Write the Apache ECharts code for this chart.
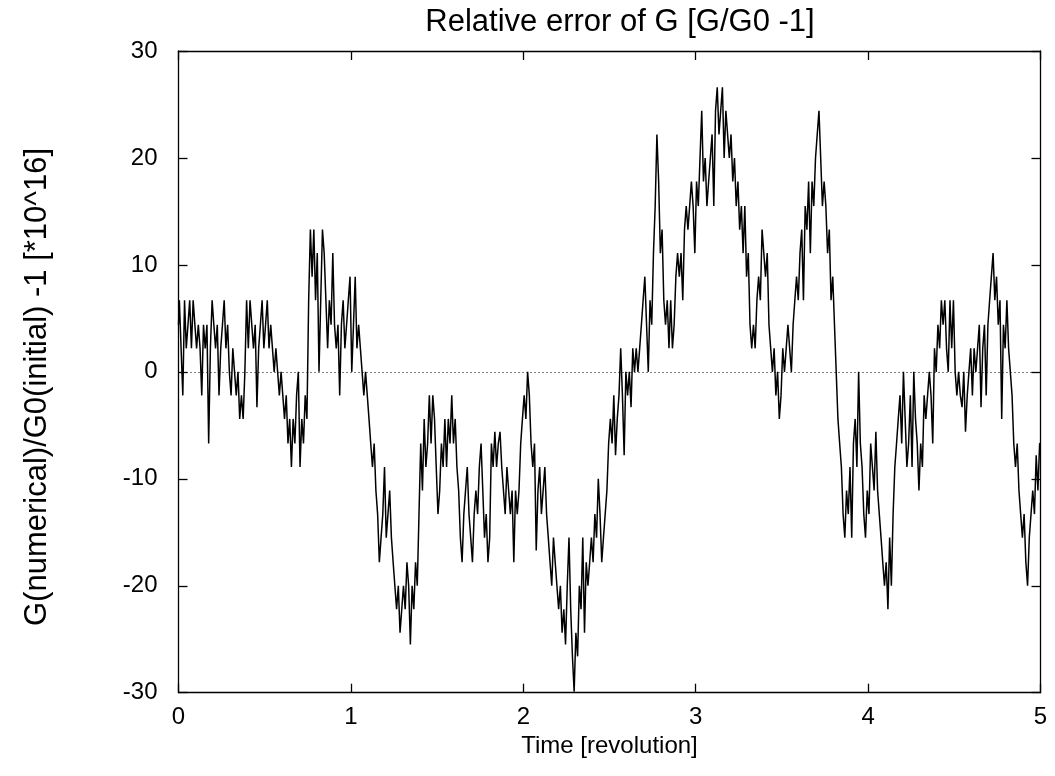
<!DOCTYPE html>
<html>
<head>
<meta charset="utf-8">
<script src="https://cdn.jsdelivr.net/npm/echarts@6/dist/echarts.min.js"></script>
<style>
  html, body { margin: 0; padding: 0; background: #fff; }
  #chart { width: 1055px; height: 776px; }
</style>
</head>
<body>
<div id="chart"></div>
<script>
// Relative error of G, in units of 1e-16, sampled every 0.01 revolution (0 .. 5)
const errorValues = [
  4.4, 6.7, 2.2, -2.2, 6.7, 2.2, 4.4, 6.7, 2.2, 6.7,
  4.4, 2.2, 4.4, 2.2, -2.2, 4.4, 2.2, 4.4, -6.7, 2.2,
  6.7, 4.4, 2.2, 4.4, -2.2, 2.2, 4.4, 6.7, 2.2, 4.4,
  0, -2.2, 2.2, 0, -2.2, 0, -4.4, -2.2, -4.4, 0,
  6.7, 2.2, 6.7, 4.4, 2.2, 4.4, -3.3, 2.2, 4.4, 6.7,
  2.2, 4.4, 6.7, 2.2, 4.4, 2.2, 0, 2.2, 0, -2.2,
  0, -2.2, -4.4, -2.2, -6.7, -4.4, -8.9, -4.4, -6.7, -2.2,
  0, -8.9, -4.4, -6.7, -2.2, -4.4, 6.7, 13.3, 8.9, 13.3,
  6.7, 11.1, 0, 6.7, 13.3, 11.1, 6.7, 2.2, 6.7, 4.4,
  11.1, 4.4, 2.2, 4.4, -2.2, 4.4, 6.7, 2.2, 4.4, 6.7,
  8.9, 0, 4.4, 8.9, 2.2, 4.4, 2.2, 0, -2.2, 0,
  -2.2, -4.4, -6.7, -8.9, -6.7, -11.1, -13.3, -17.8, -15.5, -13.3,
  -8.9, -15.5, -13.3, -11.1, -15.5, -17.8, -20, -22.2, -20, -24.4,
  -22.2, -20, -22.2, -17.8, -20, -25.5, -20, -22.2, -17.8, -20,
  -13.3, -6.7, -11.1, -4.4, -8.9, -6.7, -2.2, -6.7, -2.2, -4.4,
  -8.9, -13.3, -11.1, -6.7, -8.9, -4.4, -8.9, -4.4, -6.7, -2.2,
  -6.7, -4.4, -8.9, -11.1, -15.5, -17.8, -13.3, -11.1, -8.9, -13.3,
  -15.5, -17.8, -13.3, -11.1, -13.3, -8.9, -6.7, -11.1, -15.5, -13.3,
  -17.8, -15.5, -6.7, -8.9, -5.6, -8.9, -6.7, -5.6, -8.9, -11.1,
  -13.3, -8.9, -11.1, -13.3, -11.1, -17.8, -11.1, -13.3, -11.1, -6.7,
  -4.4, -2.2, -4.4, 0, -2.2, -6.7, -8.9, -6.7, -16.7, -11.1,
  -8.9, -13.3, -11.1, -8.9, -13.3, -15.5, -17.8, -20, -15.5, -17.8,
  -20, -22.2, -20, -24.4, -22.2, -25.5, -20, -15.5, -22.2, -26.6,
  -29.9, -24.4, -26.6, -20, -22.2, -15.5, -24.4, -17.8, -20, -17.8,
  -15.5, -17.8, -13.3, -15.5, -10, -13.3, -17.8, -15.5, -13.3, -11.1,
  -6.7, -4.4, -6.7, -2.2, -7.8, -4.4, -2.2, 2.2, -2.2, -7.8,
  0, -2.2, 0, -3.3, 2.2, 0, 2.2, 0, 2.2, 4.4,
  6.7, 8.9, 4.4, 0, 6.7, 4.4, 11.1, 15.5, 22.2, 17.8,
  11.1, 13.3, 6.7, 4.4, 6.7, 2.2, 6.7, 2.2, 4.4, 8.9,
  11.1, 8.9, 11.1, 6.7, 13.3, 15.5, 13.3, 15.5, 17.8, 15.5,
  11.1, 17.8, 15.5, 20, 24.4, 17.8, 20, 15.5, 17.8, 20,
  22.2, 15.5, 24.4, 26.6, 22.2, 24.4, 26.6, 20, 24.4, 22.2,
  20, 22.2, 17.8, 20, 15.5, 17.8, 13.3, 15.5, 11.1, 15.5,
  8.9, 11.1, 4.4, 2.2, 4.4, 2.2, 6.7, 8.9, 6.7, 13.3,
  11.1, 8.9, 11.1, 4.4, 2.2, 0, 2.2, -2.2, 0, -4.4,
  -2.2, 2.2, 0, 2.2, 4.4, 2.2, 0, 4.4, 6.7, 8.9,
  6.7, 11.1, 13.3, 6.7, 15.5, 13.3, 17.8, 11.1, 17.8, 15.5,
  20, 22.2, 24.4, 20, 15.5, 17.8, 15.5, 11.1, 13.3, 6.7,
  8.9, 4.4, 0, -4.4, -6.7, -8.9, -13.3, -15.5, -11.1, -13.3,
  -8.9, -15.5, -6.7, -4.4, -8.9, 0, -6.7, -8.9, -13.3, -15.5,
  -11.1, -13.3, -6.7, -8.9, -11.1, -5.6, -11.1, -13.3, -15.5, -17.8,
  -20, -17.8, -22.2, -15.5, -20, -13.3, -8.9, -6.7, -4.4, -2.2,
  -6.7, 0, -4.4, -8.9, -6.7, -2.2, -8.9, 0, -4.4, -6.7,
  -11.1, -6.7, -8.9, -2.2, -4.4, -2.2, 0, -2.2, -6.7, 2.2,
  0, 4.4, 2.2, 6.7, 4.4, 6.7, 2.2, 0, 6.7, 2.2,
  6.7, 0, -2.2, 0, -2.2, -3.3, 0, -5.6, -2.2, 0,
  2.2, -2.2, 2.2, 0, 2.2, 4.4, -3.3, 2.2, 4.4, -2.2,
  4.4, 6.7, 8.9, 11.1, 6.7, 8.9, 4.4, 6.7, -4.4, 4.4,
  2.2, 6.7, 2.2, 0, -2.2, -6.7, -8.9, -6.7, -11.1, -13.3,
  -15.5, -13.3, -17.8, -20, -15.5, -13.3, -11.1, -13.3, -7.8, -11.1,
  -6.7
];
// sample times in revolutions (uniform grid of the simulation output)
const sampleTimes = errorValues.map((_, i) => i / 100);

const xTicks = [0, 1, 2, 3, 4, 5];
const yTicks = [-30, -20, -10, 0, 10, 20, 30];

const titleText = 'Relative error of G [G/G0 -1]';
const xLabelText = 'Time [revolution]';
const yLabelText = 'G(numerical)/G0(initial) -1 [*10^16]';

const FONT = '"Liberation Sans", Arial, Helvetica, sans-serif';
const FS = 24;
const FS_BIG = 31;

const chart = echarts.init(document.getElementById('chart'), null, { renderer: 'canvas' });

const axisCommon = {
  axisLine: { show: true, onZero: false, lineStyle: { color: '#000', width: 1.3 } },
  axisTick: { show: true, inside: true, length: 9, lineStyle: { color: '#000', width: 1.3 } },
  splitLine: { show: false },
  minorTick: { show: false }
};

const option = {
  animation: false,
  backgroundColor: '#fff',
  textStyle: { fontFamily: FONT },
  grid: { left: 178.5, right: 14.5, top: 51, bottom: 83.3, containLabel: false },
  xAxis: [
    Object.assign({}, axisCommon, {
      type: 'value', position: 'bottom', min: xTicks[0], max: xTicks[xTicks.length - 1], interval: 1,
      axisLabel: { show: true, color: '#000', fontSize: FS, fontFamily: FONT, margin: 13 },
      name: xLabelText, nameLocation: 'middle', nameGap: 40,
      nameTextStyle: { color: '#000', fontSize: FS, fontFamily: FONT }
    }),
    Object.assign({}, axisCommon, {
      type: 'value', position: 'top', min: xTicks[0], max: xTicks[xTicks.length - 1], interval: 1,
      axisLabel: { show: false }
    })
  ],
  yAxis: [
    Object.assign({}, axisCommon, {
      type: 'value', position: 'left', min: yTicks[0], max: yTicks[yTicks.length - 1], interval: 10,
      axisLabel: { show: true, color: '#000', fontSize: FS, fontFamily: FONT, margin: 21 }
    }),
    Object.assign({}, axisCommon, {
      type: 'value', position: 'right', min: yTicks[0], max: yTicks[yTicks.length - 1], interval: 10,
      axisLabel: { show: false }
    })
  ],
  graphic: [
    {
      type: 'text', x: 620, y: 22,
      style: { text: titleText, fill: '#000', font: FS_BIG + 'px ' + FONT, textAlign: 'center', textVerticalAlign: 'middle' }
    },
    {
      type: 'text', x: 37, y: 387, rotation: Math.PI / 2,
      style: { text: yLabelText, fill: '#000', font: FS_BIG + 'px ' + FONT, textAlign: 'center', textVerticalAlign: 'middle' }
    }
  ],
  series: [
    {
      type: 'line',
      xAxisIndex: 0, yAxisIndex: 0,
      data: sampleTimes.map((t, i) => [t, errorValues[i]]),
      step: 'middle',
      showSymbol: false,
      symbol: 'none',
      clip: true,
      lineStyle: { color: '#000', width: 1.5 },
      markLine: {
        silent: true,
        symbol: 'none',
        label: { show: false },
        lineStyle: { color: '#000', width: 1, type: [1, 3] },
        data: [{ yAxis: 0 }]
      },
      z: 3
    }
  ]
};

chart.setOption(option);
</script>
</body>
</html>
